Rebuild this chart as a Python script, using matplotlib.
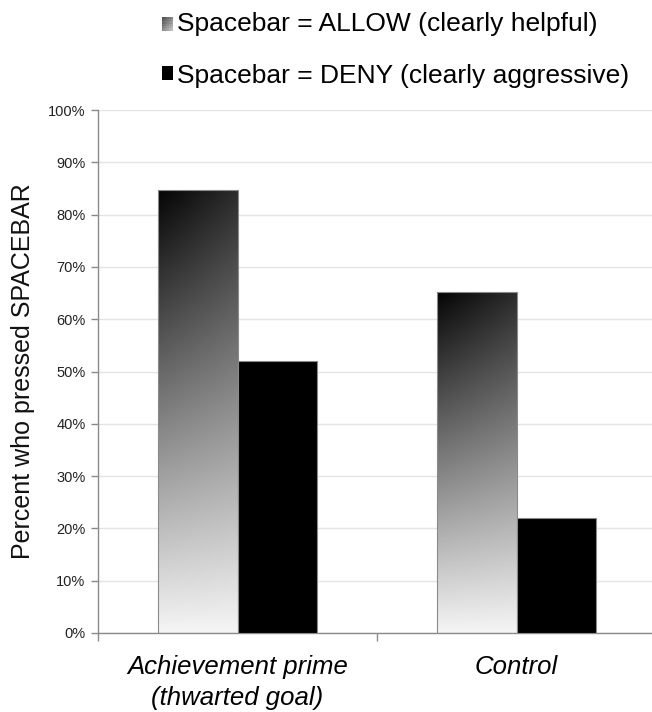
import numpy as np
import matplotlib
matplotlib.use("Agg")
import matplotlib.pyplot as plt
from matplotlib.patches import Rectangle
from matplotlib.legend_handler import HandlerBase

# data
categories = ["Achievement prime\n(thwarted goal)", "Control"]
allow_pct = [84.7, 65.2]
deny_pct = [52.0, 22.0]
series_labels = ["Spacebar = ALLOW (clearly helpful)", "Spacebar = DENY (clearly aggressive)"]
yticks = list(range(0, 101, 10))

plt.rcParams['font.family'] = ['Liberation Sans', 'DejaVu Sans']

fig = plt.figure(figsize=(6.52, 7.12), dpi=100)
ax = fig.add_axes([98 / 652, 79 / 712, 558 / 652, 523 / 712])

bar_w = 0.285
edge = '#8a8a8a'


def gradient(nx=40, ny=200):
    # dark at the top, almost white at the bottom, slightly lighter to the right
    t = np.linspace(0, 1, ny)[:, None]
    s = np.linspace(0, 1, nx)[None, :]
    return np.clip(0.02 + 0.94 * t + 0.15 * s * (1 - t), 0, 1)


x = np.arange(len(categories))
for xi, a, d in zip(x, allow_pct, deny_pct):
    x0 = xi - bar_w
    ax.imshow(gradient(), cmap='gray', vmin=0, vmax=1, aspect='auto',
              extent=(x0, x0 + bar_w, 0, a), origin='upper', zorder=2,
              interpolation='bilinear')
    ax.add_patch(Rectangle((x0, 0), bar_w, a, fill=False, edgecolor=edge,
                           linewidth=0.8, zorder=3))
ax.bar(x + bar_w / 2, deny_pct, width=bar_w, color='black', edgecolor=edge,
       linewidth=0.8, zorder=3)

ax.set_xlim(-0.5, 1.5)
ax.set_ylim(0, 100)
ax.set_yticks(yticks)
ax.set_yticklabels([f"{v}%" for v in yticks], fontsize=10.5, color='#222222')
ax.grid(axis='y', color='#e4e4e4', linewidth=1, zorder=0)
ax.set_axisbelow(True)

ax.set_xticks(x)
ax.set_xticklabels(categories, fontsize=18.5, style='italic', linespacing=1.38)
ax.tick_params(axis='x', length=0, pad=16)
ax.set_xticks([-0.5, 0.5, 1.5], minor=True)
ax.tick_params(axis='x', which='minor', length=6, color=edge, width=1)
ax.tick_params(axis='y', length=5, color=edge, width=1, pad=4)

for side in ['top', 'right']:
    ax.spines[side].set_visible(False)
for side in ['left', 'bottom']:
    ax.spines[side].set_color(edge)
    ax.spines[side].set_linewidth(1)

ax.set_ylabel("Percent who pressed SPACEBAR", fontsize=18, color='#111111')
ax.yaxis.set_label_coords(-0.113, 0.5)


class GradientHandler(HandlerBase):
    def create_artists(self, legend, orig_handle, xdescent, ydescent,
                       width, height, fontsize, trans):
        arts = []
        n = 6
        for i in range(n):
            for j in range(n):
                v = 0.3 + 0.45 * (i + j) / (2 * (n - 1))
                r = Rectangle((width * j / n, height * (n - 1 - i) / n),
                              width / n, height / n, facecolor=str(v),
                              edgecolor='none', transform=trans)
                arts.append(r)
        return arts


allow_handle = Rectangle((0, 0), 1, 1)
deny_handle = Rectangle((0, 0), 1, 1, facecolor='black', edgecolor='none')
fig.legend([allow_handle, deny_handle], series_labels,
           handler_map={allow_handle: GradientHandler()},
           loc='upper left', bbox_to_anchor=(151 / 652, 1 - 1 / 712),
           frameon=False, fontsize=19, handlelength=0.42, handleheight=0.42,
           handletextpad=0.15, labelspacing=1.06, borderaxespad=0)

fig.savefig("out.png", dpi=100)
